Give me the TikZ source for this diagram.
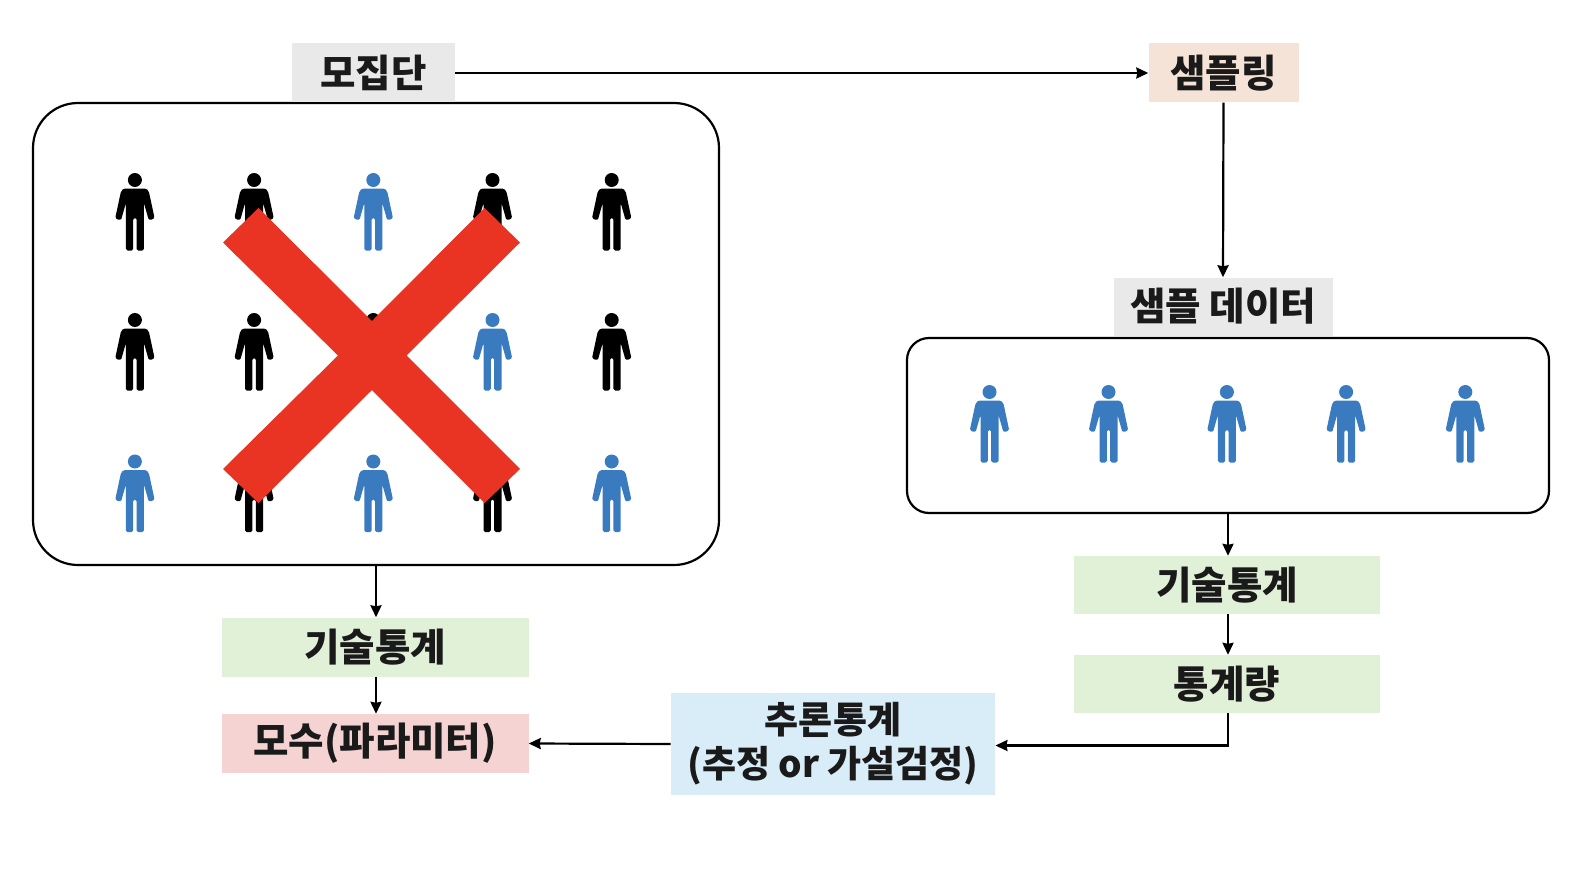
\documentclass[tikz,border=0pt]{standalone}
\usepackage{fontspec}
\setmainfont{Noto Sans CJK KR}
\usetikzlibrary{arrows.meta}
\definecolor{cblue}{HTML}{3A7ABF}
\definecolor{cred}{HTML}{E93323}
\definecolor{cgray}{HTML}{E9E9E9}
\definecolor{cpeach}{HTML}{F6E3D8}
\definecolor{cgreen}{HTML}{E1F1D8}
\definecolor{cpink}{HTML}{F6D3D3}
\definecolor{csky}{HTML}{D8EDF8}
\definecolor{ctext}{HTML}{1A1A1A}
\tikzset{
  label box/.style n args={2}{fill=#1,text=ctext,font=\fontsize{38.5}{44}\selectfont\bfseries,inner sep=0pt,minimum width=#2,align=center},
  frame/.style={draw=black,line width=2.2pt,fill=white,rounded corners=#1,inner sep=0pt},
  link/.style={draw=black,line width=2.2pt,-{Stealth[length=12pt,width=11pt,inset=1pt]}},
  person/.pic={
    \fill[pic actions] (0,0) circle[radius=7];
    \fill[pic actions,rounded corners=1.6pt]
      (-8,8.5) .. controls (-11.5,8.5) and (-13.5,10) .. (-14.5,14)
      -- (-19,35) .. controls (-20,39.5) and (-14,41) .. (-13,37)
      -- (-9,23) -- (-9,70.5) -- (-1.7,70.5) -- (-1.7,38) -- (1.7,38) -- (1.7,70.5) -- (9,70.5) -- (9,23)
      -- (13,37) .. controls (14,41) and (20,39.5) .. (19,35)
      -- (14.5,14) .. controls (13.5,10) and (11.5,8.5) .. (8,8.5) -- cycle;
  }
}
\begin{document}
\begin{tikzpicture}[x=1pt,y=-1pt]
\useasboundingbox[fill=white] (0,0) rectangle (1584,880);

% frames
\node[frame=45pt,minimum width=686pt,minimum height=462pt] (rl) at (376,334) {};
\node[frame=22pt,minimum width=642pt,minimum height=175pt] (rr) at (1228,425.5) {};

% title labels
\node[label box={cgray}{163pt},minimum height=58.5pt] (pop) at (373.5,72.75) {모집단};
\node[label box={cpeach}{150pt},minimum height=59.5pt] (smp) at (1223.5,72.75) {샘플링};
\node[label box={cgray}{219pt},minimum height=58pt] (dat) at (1223,306.5) {샘플 데이터};
\node[label box={cgreen}{307pt},minimum height=59pt] (dl) at (375,647) {기술통계};
\node[label box={cpink}{307pt},minimum height=59pt] (par) at (375,743.5) {모수(파라미터)};
\node[label box={cgreen}{306pt},minimum height=58pt] (dr) at (1227,585) {기술통계};
\node[label box={cgreen}{306pt},minimum height=58pt] (st) at (1227,684) {통계량};
\node[label box={csky}{324.5pt},minimum height=102pt,font=\fontsize{37}{44}\selectfont\bfseries] (inf) at (833,744) {추론통계\\(추정 or 가설검정)};

% people, population
\foreach \x/\y/\c in {134.9/180/black,254.1/180/black,373.3/180/cblue,492.5/180/black,611.7/180/black,
  134.9/320/black,254.1/320/black,373.3/320/black,492.5/320/cblue,611.7/320/black,
  134.9/461.5/cblue,254.1/461.5/black,373.3/461.5/cblue,492.5/461.5/black,611.7/461.5/cblue}
  \pic[fill=\c] at (\x,\y) {person};
% people, sample
\foreach \x in {989.5,1108.5,1226.9,1346.1,1465.3}
  \pic[fill=cblue] at (\x,392) {person};

% big cross
\fill[cred] (223,242.5) -- (258.5,208) -- (372,321) -- (484.5,208) -- (520,242.5) -- (406.5,355.5)
  -- (520,469) -- (484.5,503) -- (372,390) -- (258.5,503) -- (223,469) -- (338,355.5) -- cycle;

% connectors
\draw[link] (pop.east |- 0,73) -- (smp.west |- 0,73);
\draw[link] (smp.south) -- (dat.north);
\draw[link] (rl.south) -- (rl.south |- dl.north);
\draw[link] (rl.south |- dl.south) -- (rl.south |- par.north);
\draw[link] (rr.south) -- (rr.south |- dr.north);
\draw[link] (rr.south |- dr.south) -- (rr.south |- st.north);
\draw[link] (rr.south |- st.south) |- (inf.east |- 0,745.5);
\draw[link] (inf.west) -- (par.east);
\end{tikzpicture}
\end{document}
